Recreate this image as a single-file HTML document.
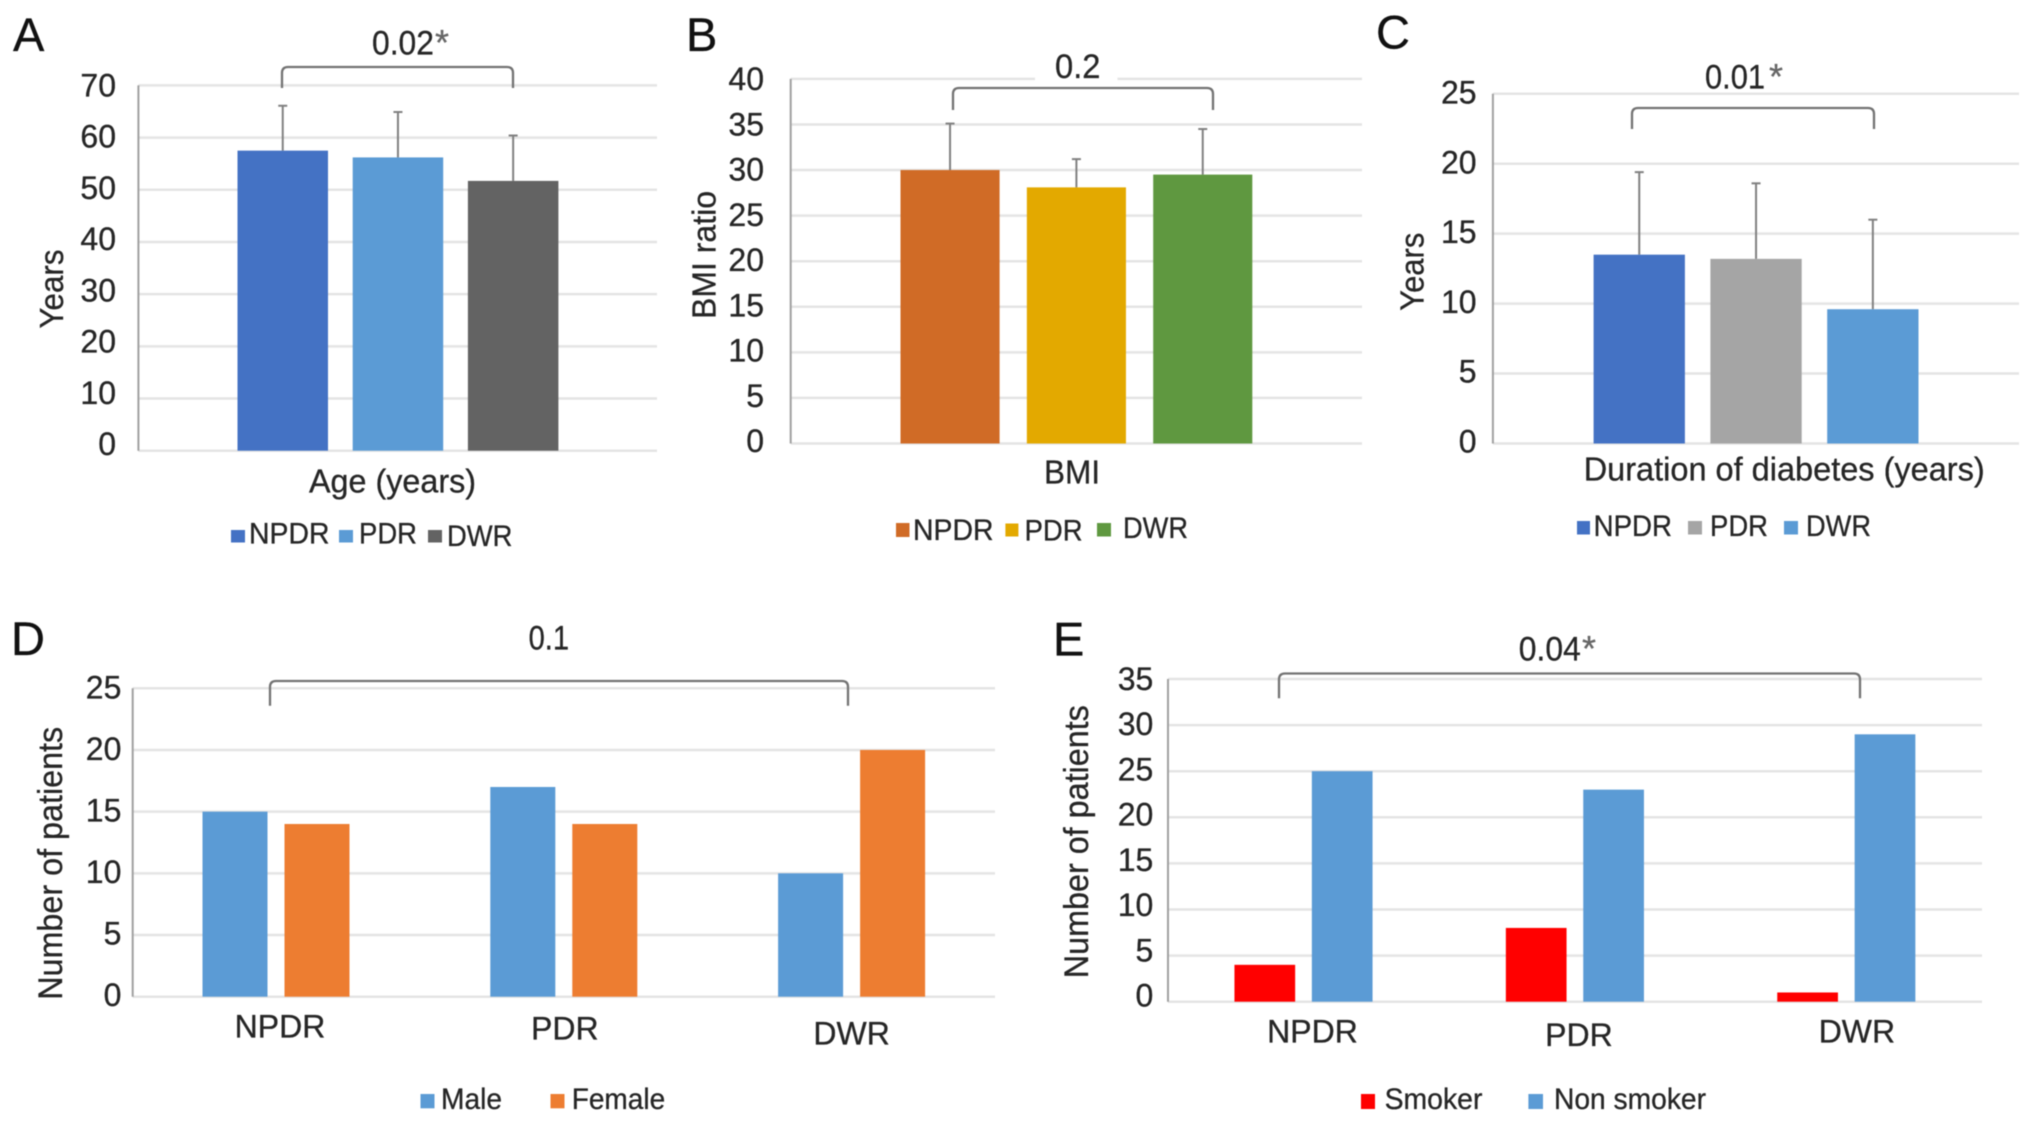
<!DOCTYPE html>
<html lang="en">
<head>
<meta charset="utf-8">
<title>Patient characteristics by retinopathy group</title>
<style>
  html, body { margin: 0; padding: 0; background: #fff; width: 2032px; height: 1123px; overflow: hidden; }
  svg { display: block; filter: blur(0.55px); }
  text { font-family: "Liberation Sans", Arial, sans-serif; fill: #262626; stroke: #262626; stroke-width: 0.3px; }
  .tick { font-size: 32px; text-anchor: end; }
  .title { font-size: 33px; }
  .category { font-size: 32px; }
  .legend { font-size: 30px; }
  .letter { font-size: 47px; fill: #111; stroke: #111; }
  .pvalue { font-size: 34px; }
  .star { font-size: 36px; fill: #666; stroke: #666; }
  .bracket { fill: none; stroke: #737373; stroke-width: 2.3; }
</style>
</head>
<body>
<svg id="figure" xmlns="http://www.w3.org/2000/svg" width="2032" height="1123" viewBox="0 0 2032 1123">
  <rect x="0" y="0" width="2032" height="1123" fill="#ffffff"/>
  <g id="marks"></g>

  <g>
    <text class="letter" x="13" y="51">A</text>
    <path class="bracket" d="M282 88 V73 Q282 67 288 67 H507 Q513 67 513 73 V88"/>
    <text class="pvalue" x="372" y="54.5" textLength="62" lengthAdjust="spacingAndGlyphs">0.02</text>
    <text class="star" x="435" y="55">*</text>
    <text class="title" transform="translate(63,289) rotate(-90)" text-anchor="middle" textLength="79" lengthAdjust="spacingAndGlyphs">Years</text>
    <text class="title" x="309" y="492.5" textLength="167" lengthAdjust="spacingAndGlyphs">Age (years)</text>
    <rect x="231" y="530" width="14" height="12.5" fill="#4472c4"/>
    <text class="legend" x="249" y="543.4" textLength="80.5" lengthAdjust="spacingAndGlyphs">NPDR</text>
    <rect x="339" y="530" width="14" height="12.5" fill="#5b9bd5"/>
    <text class="legend" x="359" y="543.4" textLength="58" lengthAdjust="spacingAndGlyphs">PDR</text>
    <rect x="428" y="530" width="14" height="12.5" fill="#636363"/>
    <text class="legend" x="447" y="546" textLength="65.5" lengthAdjust="spacingAndGlyphs">DWR</text>
  </g>

  <g>
    <text class="letter" x="686" y="51">B</text>
    <rect x="1035" y="70" width="82.5" height="14" fill="#ffffff"/>
    <path class="bracket" d="M953 110 V94 Q953 88 959 88 H1207 Q1213 88 1213 94 V110"/>
    <text class="pvalue" x="1055" y="78.2" textLength="45.5" lengthAdjust="spacingAndGlyphs">0.2</text>
    <text class="title" transform="translate(715.7,255) rotate(-90)" text-anchor="middle" textLength="128" lengthAdjust="spacingAndGlyphs">BMI ratio</text>
    <text class="title" x="1044" y="483.5" textLength="56" lengthAdjust="spacingAndGlyphs">BMI</text>
    <rect x="896" y="523" width="13.5" height="14" fill="#d06b26"/>
    <text class="legend" x="913" y="540" textLength="80.5" lengthAdjust="spacingAndGlyphs">NPDR</text>
    <rect x="1005.4" y="523.5" width="13" height="13" fill="#e3a900"/>
    <text class="legend" x="1024.6" y="540.5" textLength="58" lengthAdjust="spacingAndGlyphs">PDR</text>
    <rect x="1097" y="523" width="14" height="13.5" fill="#5f9840"/>
    <text class="legend" x="1123" y="538" textLength="65" lengthAdjust="spacingAndGlyphs">DWR</text>
  </g>

  <g>
    <text class="letter" x="1376" y="48.3">C</text>
    <path class="bracket" d="M1632 129 V114 Q1632 108 1638 108 H1868 Q1874 108 1874 114 V129"/>
    <text class="pvalue" x="1705" y="88.3" textLength="60" lengthAdjust="spacingAndGlyphs">0.01</text>
    <text class="star" x="1769" y="89">*</text>
    <text class="title" transform="translate(1423.4,271.7) rotate(-90)" text-anchor="middle" textLength="78" lengthAdjust="spacingAndGlyphs">Years</text>
    <text class="title" x="1583.7" y="480.5" textLength="401" lengthAdjust="spacingAndGlyphs">Duration of diabetes (years)</text>
    <rect x="1577" y="521" width="13" height="13.5" fill="#4472c4"/>
    <text class="legend" x="1593.6" y="536" textLength="78.4" lengthAdjust="spacingAndGlyphs">NPDR</text>
    <rect x="1688" y="521" width="14" height="13.5" fill="#a5a5a5"/>
    <text class="legend" x="1710" y="536" textLength="58" lengthAdjust="spacingAndGlyphs">PDR</text>
    <rect x="1784" y="521" width="14" height="13.5" fill="#5b9bd5"/>
    <text class="legend" x="1806" y="536" textLength="65" lengthAdjust="spacingAndGlyphs">DWR</text>
  </g>

  <g>
    <text class="letter" x="11" y="655">D</text>
    <path class="bracket" d="M270 705.7 V687 Q270 681 276 681 H842 Q848 681 848 687 V705.7"/>
    <text class="pvalue" x="528.6" y="649.3" textLength="40.4" lengthAdjust="spacingAndGlyphs">0.1</text>
    <text class="title" transform="translate(62,863.3) rotate(-90)" text-anchor="middle" textLength="273" lengthAdjust="spacingAndGlyphs" style="font-size:34px">Number of patients</text>
    <rect x="420.5" y="1094" width="14" height="14.3" fill="#5b9bd5"/>
    <text class="legend" x="441" y="1109" textLength="61" lengthAdjust="spacingAndGlyphs">Male</text>
    <rect x="550.5" y="1094" width="14" height="14.3" fill="#ed7d31"/>
    <text class="legend" x="571.7" y="1109" textLength="93.5" lengthAdjust="spacingAndGlyphs">Female</text>
  </g>

  <g>
    <text class="letter" x="1053" y="655.7">E</text>
    <path class="bracket" d="M1279 698.3 V679.5 Q1279 673.5 1285 673.5 H1854 Q1860 673.5 1860 679.5 V698.3"/>
    <text class="pvalue" x="1518.8" y="660.7" textLength="62" lengthAdjust="spacingAndGlyphs">0.04</text>
    <text class="star" x="1582" y="661">*</text>
    <text class="title" transform="translate(1088,841.7) rotate(-90)" text-anchor="middle" textLength="273" lengthAdjust="spacingAndGlyphs" style="font-size:34px">Number of patients</text>
    <rect x="1361" y="1094" width="14" height="15" fill="#ff0000"/>
    <text class="legend" x="1384.6" y="1109" textLength="97.8" lengthAdjust="spacingAndGlyphs">Smoker</text>
    <rect x="1528.4" y="1094" width="14.6" height="15" fill="#5b9bd5"/>
    <text class="legend" x="1554" y="1109" textLength="152" lengthAdjust="spacingAndGlyphs">Non smoker</text>
  </g>
</svg>

<script>
// ---------- Chart data ----------
const panelASeries = ['NPDR', 'PDR', 'DWR'];
const panelAMeans = [57.5, 56.2, 51.7];
const panelAErrors = [8.6, 8.7, 8.7];
const panelATicks = [0, 10, 20, 30, 40, 50, 60, 70];

const panelBSeries = ['NPDR', 'PDR', 'DWR'];
const panelBMeans = [30.0, 28.1, 29.5];
const panelBErrors = [5.1, 3.1, 5.0];
const panelBTicks = [0, 5, 10, 15, 20, 25, 30, 35, 40];

const panelCSeries = ['NPDR', 'PDR', 'DWR'];
const panelCMeans = [13.5, 13.2, 9.6];
const panelCErrors = [5.9, 5.4, 6.4];
const panelCTicks = [0, 5, 10, 15, 20, 25];

const panelDCategories = ['NPDR', 'PDR', 'DWR'];
const panelDMale = [15, 17, 10];
const panelDFemale = [14, 14, 20];
const panelDTicks = [0, 5, 10, 15, 20, 25];

const panelECategories = ['NPDR', 'PDR', 'DWR'];
const panelESmoker = [4, 8, 1];
const panelENonSmoker = [25, 23, 29];
const panelETicks = [0, 5, 10, 15, 20, 25, 30, 35];

// ---------- Layout (not data) ----------
const layoutA = { id: 'a', x0: 138.4, x1: 657, yTop: 85.4, yBase: 450.7, labelRight: 116, labelTop: 96.3, labelBase: 455,
  barX: 237.5, barW: 90.5, step: 115.2, fills: ['#4472c4', '#5b9bd5', '#636363'] };
const layoutB = { id: 'b', x0: 790.7, x1: 1362, yTop: 78.9, yBase: 443.5, labelRight: 764, labelTop: 90, labelBase: 452,
  barX: 900.5, barW: 99.1, step: 126.35, fills: ['#d06b26', '#e3a900', '#5f9840'] };
const layoutC = { id: 'c', x0: 1492.9, x1: 2019, yTop: 93.8, yBase: 443.5, labelRight: 1476.6, labelTop: 103.6, labelBase: 452.5,
  barX: 1593.6, barW: 91.3, step: 116.8, fills: ['#4472c4', '#a5a5a5', '#5b9bd5'] };
const layoutD = { id: 'd', x0: 132.7, x1: 995, yTop: 688.3, yBase: 996.7, labelRight: 121.4, labelTop: 698.3, labelBase: 1006,
  groupX: 276, groupStep: 287.8, barOffset: 41, barW: 65, fills: ['#5b9bd5', '#ed7d31'], names: ['male', 'female'],
  catBase: 1037.7, catDx: [4, 1, 0], catDy: [0, 1.6, 6.6] };
const layoutE = { id: 'e', x0: 1168, x1: 1982, yTop: 679, yBase: 1001.7, labelRight: 1153.3, labelTop: 690, labelBase: 1006.7,
  groupX: 1303.5, groupStep: 271.4, barOffset: 38.7, barW: 60.7, fills: ['#ff0000', '#5b9bd5'], names: ['smoker', 'non-smoker'],
  catBase: 1042.7, catDx: [9, 4, 10.6], catDy: [0, 3.3, 0] };

// ---------- Rendering ----------
const SVG_NS = 'http://www.w3.org/2000/svg';
const marksRoot = document.getElementById('marks');

function make(tag, attrs, parent) {
  const node = document.createElementNS(SVG_NS, tag);
  Object.keys(attrs).forEach(function (key) { node.setAttribute(key, attrs[key]); });
  parent.appendChild(node);
  return node;
}

function yScale(layout, ticks) {
  const lo = Math.min.apply(null, ticks);
  const hi = Math.max.apply(null, ticks);
  return function (v) { return layout.yBase - (v - lo) / (hi - lo) * (layout.yBase - layout.yTop); };
}

function labelScale(layout, ticks) {
  const lo = Math.min.apply(null, ticks);
  const hi = Math.max.apply(null, ticks);
  return function (v) { return layout.labelBase - (v - lo) / (hi - lo) * (layout.labelBase - layout.labelTop); };
}

function drawAxes(layout, ticks, parent) {
  const y = yScale(layout, ticks);
  const labelY = labelScale(layout, ticks);
  ticks.forEach(function (t) {
    const grid = make('line', { x1: layout.x0, x2: layout.x1, y1: y(t), y2: y(t), stroke: '#e4e4e4', 'stroke-width': 2.5 }, parent);
    
    
    const label = make('text', { class: 'tick', x: layout.labelRight, y: labelY(t) }, parent);
    label.textContent = String(t);
    
    
  });
  const axis = make('line', { x1: layout.x0, x2: layout.x0, y1: layout.yTop, y2: layout.yBase, stroke: '#a0a0a0', 'stroke-width': 2 }, parent);
  
  
}

function drawErrorPanel(layout, series, means, errors, ticks) {
  const group = make('g', {}, marksRoot);
  
  
  drawAxes(layout, ticks, group);
  const y = yScale(layout, ticks);
  means.forEach(function (mean, i) {
    const left = layout.barX + i * layout.step;
    const center = left + layout.barW / 2;
    const top = y(mean) ;
    const whiskerTop = y(mean + errors[i]);
    const stem = make('line', { x1: center, x2: center, y1: whiskerTop, y2: top, stroke: '#808080', 'stroke-width': 2 }, group);
    
    
    const cap = make('line', { x1: center - 4.5, x2: center + 4.5, y1: whiskerTop, y2: whiskerTop, stroke: '#808080', 'stroke-width': 2 }, group);
    
    
    const bar = make('rect', { x: left, y: top, width: layout.barW, height: layout.yBase - top, fill: layout.fills[i] }, group);
    
    
  });
}

function drawGroupedPanel(layout, categories, seriesA, seriesB, ticks) {
  const group = make('g', {}, marksRoot);
  
  
  drawAxes(layout, ticks, group);
  const y = yScale(layout, ticks);
  [seriesA, seriesB].forEach(function (values, s) {
    values.forEach(function (value, i) {
      const center = layout.groupX + i * layout.groupStep + (s === 0 ? -layout.barOffset : layout.barOffset);
      const top = y(value);
      const bar = make('rect', { x: center - layout.barW / 2, y: top, width: layout.barW, height: layout.yBase - top, fill: layout.fills[s] }, group);
      
      
    });
  });
  categories.forEach(function (name, i) {
    const label = make('text', {
      class: 'category',
      'text-anchor': 'middle',
      x: layout.groupX + i * layout.groupStep + layout.catDx[i],
      y: layout.catBase + layout.catDy[i]
    }, group);
    label.textContent = name;
    
    
  });
}

drawErrorPanel(layoutA, panelASeries, panelAMeans, panelAErrors, panelATicks);
drawErrorPanel(layoutB, panelBSeries, panelBMeans, panelBErrors, panelBTicks);
drawErrorPanel(layoutC, panelCSeries, panelCMeans, panelCErrors, panelCTicks);
drawGroupedPanel(layoutD, panelDCategories, panelDMale, panelDFemale, panelDTicks);
drawGroupedPanel(layoutE, panelECategories, panelESmoker, panelENonSmoker, panelETicks);
</script>
</body>
</html>
